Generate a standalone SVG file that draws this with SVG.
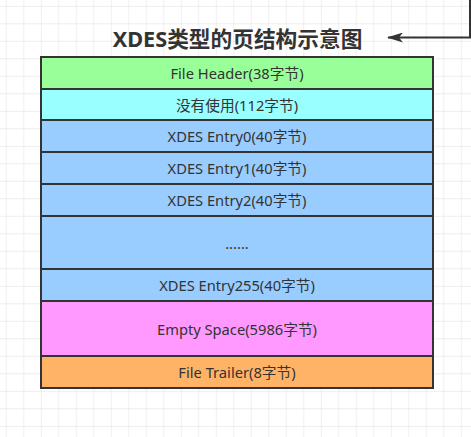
<svg xmlns="http://www.w3.org/2000/svg" width="471" height="437" viewBox="0 0 471 437">
<style>
.box{stroke:#333;stroke-width:2}
.t{font-family:"Noto Sans","Noto Sans CJK SC",sans-serif;font-size:14.7px;fill:#333;text-anchor:middle;dominant-baseline:central}
.title{font-family:"Noto Sans","Noto Sans CJK SC",sans-serif;font-size:21.7px;font-weight:bold;fill:#333;text-anchor:middle}
</style>
<defs>
<pattern id="grid" x="5.8" y="5.8" width="17.5" height="17.5" patternUnits="userSpaceOnUse">
<path d="M0 0H17.5M0 0V17.5" fill="none" stroke="#e8e8e8" stroke-width="1.3"/>
</pattern>
<marker id="arrow" viewBox="0 0 16 10" refX="15" refY="5" markerWidth="16" markerHeight="10" markerUnits="userSpaceOnUse" orient="auto">
<path d="M0 0L16 5L0 10L4 5Z" fill="#333"/>
</marker>
</defs>
<rect width="471" height="437" fill="#fff"/>
<rect width="471" height="437" fill="url(#grid)"/>
<g id="connectors">
<path d="M470 0V37.5H388" fill="none" stroke="#333" stroke-width="2" marker-end="url(#arrow)"/>
</g>
<g id="title"><text class="title" x="237.5" y="46.5">XDES类型的页结构示意图</text></g>
<g id="file-header"><rect class="box" x="41" y="57" width="392" height="32" fill="#99FF99"/><text class="t" x="237" y="73">File Header(38字节)</text></g>
<g id="unused"><rect class="box" x="41" y="89" width="392" height="31" fill="#99FFFF"/><text class="t" x="237" y="104.5">没有使用(112字节)</text></g>
<g id="entry0"><rect class="box" x="41" y="120" width="392" height="32" fill="#99CCFF"/><text class="t" x="237" y="136">XDES Entry0(40字节)</text></g>
<g id="entry1"><rect class="box" x="41" y="152" width="392" height="32" fill="#99CCFF"/><text class="t" x="237" y="168">XDES Entry1(40字节)</text></g>
<g id="entry2"><rect class="box" x="41" y="184" width="392" height="32" fill="#99CCFF"/><text class="t" x="237" y="200">XDES Entry2(40字节)</text></g>
<g id="ellipsis"><rect class="box" x="41" y="216" width="392" height="53" fill="#99CCFF"/><text class="t" x="237" y="242.5">......</text></g>
<g id="entry255"><rect class="box" x="41" y="269" width="392" height="32" fill="#99CCFF"/><text class="t" x="237" y="285">XDES Entry255(40字节)</text></g>
<g id="empty-space"><rect class="box" x="41" y="301" width="392" height="55" fill="#FF99FF"/><text class="t" x="237" y="328.5">Empty Space(5986字节)</text></g>
<g id="file-trailer"><rect class="box" x="41" y="356" width="392" height="32" fill="#FFB366"/><text class="t" x="237" y="372">File Trailer(8字节)</text></g>
</svg>
